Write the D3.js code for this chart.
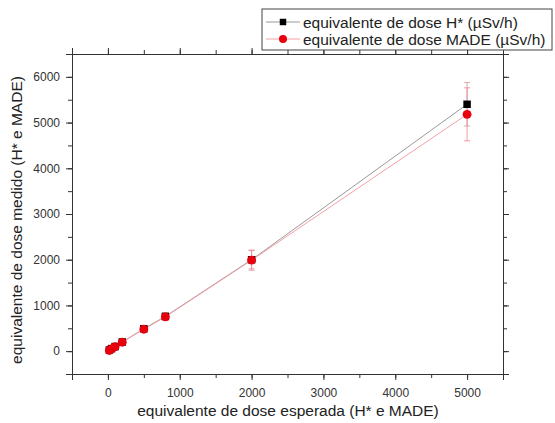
<!DOCTYPE html>
<html>
<head>
<meta charset="utf-8">
<script src="https://cdn.jsdelivr.net/npm/d3@7"></script>
<style>
  body { margin: 0; background: #fff; }
  svg { font-family: Arial, "Liberation Sans", sans-serif; }
</style>
</head>
<body>
<div id="chart"></div>
<script>
// expected dose (x) and measured values for both series
const expected = [20, 50, 100, 200, 500, 800, 2000, 5000]
const hstar = [25, 55, 100, 200, 490, 760, 2000, 5400]
const hstarErr = [2, 5, 10, 20, 50, 75, 200, 475]
const made = [15, 50, 95, 195, 480, 750, 1990, 5180]
const madeErr = [2, 5, 10, 20, 50, 75, 220, 580]
const xTicks = [0, 1000, 2000, 3000, 4000, 5000]
const yTicks = [0, 1000, 2000, 3000, 4000, 5000, 6000]
const legendLabels = ['equivalente de dose H* (\u00b5Sv/h)', 'equivalente de dose MADE (\u00b5Sv/h)']

const width = 555
const height = 423
const m = { left: 72, right: 52, top: 54, bottom: 49 }

const x = d3.scaleLinear().domain([-500, 5500]).range([m.left, width - m.right])
const y = d3.scaleLinear().domain([-500, 6500]).range([height - m.bottom, m.top])

const svg = d3.select('#chart').append('svg')
  .attr('width', width)
  .attr('height', height)

const minor = d => d3.range(d[0], d[1] + 1, 500)

// axes with outward ticks on bottom/left, inward on top/right
const axis = (gen, tf) => svg.append('g').attr('transform', tf).call(gen)
  .call(g => g.select('.domain').attr('stroke', '#333'))
  .call(g => g.selectAll('.tick line').attr('stroke', '#333'))
  .call(g => g.selectAll('.tick text').attr('fill', '#333').attr('font-size', 12))

axis(d3.axisBottom(x).tickValues(minor(x.domain())).tickSize(4).tickFormat(''), `translate(0,${y.range()[0]})`)
axis(d3.axisBottom(x).tickValues(xTicks).tickSize(6).tickPadding(8).tickFormat(d3.format('d')), `translate(0,${y.range()[0]})`)
axis(d3.axisLeft(y).tickValues(minor(y.domain())).tickSize(4).tickFormat(''), `translate(${x.range()[0]},0)`)
axis(d3.axisLeft(y).tickValues(yTicks).tickSize(6).tickPadding(6).tickFormat(d3.format('d')), `translate(${x.range()[0]},0)`)
axis(d3.axisBottom(x).tickValues(minor(x.domain())).tickSize(-4).tickFormat(''), `translate(0,${y.range()[1]})`)
axis(d3.axisBottom(x).tickValues(xTicks).tickSize(-6).tickFormat(''), `translate(0,${y.range()[1]})`)
axis(d3.axisLeft(y).tickValues(minor(y.domain())).tickSize(-4).tickFormat(''), `translate(${x.range()[1]},0)`)
axis(d3.axisLeft(y).tickValues(yTicks).tickSize(-6).tickFormat(''), `translate(${x.range()[1]},0)`)

svg.append('text')
  .attr('x', 288)
  .attr('y', 416)
  .attr('text-anchor', 'middle')
  .attr('font-size', 15.5)
  .attr('fill', '#222')
  .text('equivalente de dose esperada (H* e MADE)')

svg.append('text')
  .attr('transform', 'translate(22,220) rotate(-90)')
  .attr('text-anchor', 'middle')
  .attr('font-size', 15.5)
  .attr('fill', '#222')
  .text('equivalente de dose medido (H* e MADE)')

const series = [
  { vals: hstar, err: hstarErr, line: '#999', errColor: '#c99', marker: 'square', fill: '#000' },
  { vals: made, err: madeErr, line: '#f4a0a8', errColor: '#f08090', marker: 'circle', fill: '#e8000c' }
]

const line = d3.line().x(d => x(d[0])).y(d => y(d[1]))

series.forEach(s => {
  const pts = expected.map((e, i) => [e, s.vals[i], s.err[i]])
  svg.append('path').datum(pts)
    .attr('d', line).attr('fill', 'none')
    .attr('stroke', s.line).attr('stroke-width', 1)
})

series.forEach(s => {
  const pts = expected.map((e, i) => [e, s.vals[i], s.err[i]])
  const eb = svg.append('g').attr('stroke', s.errColor).attr('stroke-width', 0.8)
  pts.forEach(p => {
    eb.append('line').attr('x1', x(p[0])).attr('x2', x(p[0]))
      .attr('y1', y(p[1] - p[2])).attr('y2', y(p[1] + p[2]))
    ;[p[1] - p[2], p[1] + p[2]].forEach(v => {
      eb.append('line').attr('x1', x(p[0]) - 3).attr('x2', x(p[0]) + 3)
        .attr('y1', y(v)).attr('y2', y(v))
    })
  })
})

series.forEach(s => {
  const pts = expected.map((e, i) => [e, s.vals[i]])
  const sym = s.marker === 'square' ? d3.symbolSquare : d3.symbolCircle
  const size = s.marker === 'square' ? 56 : 62
  svg.append('g').selectAll('path').data(pts).enter().append('path')
    .attr('transform', d => `translate(${x(d[0])},${y(d[1])})`)
    .attr('d', d3.symbol(sym, size))
    .attr('fill', s.fill)
})

// legend
const lg = svg.append('g').attr('transform', 'translate(262,9)')
lg.append('rect').attr('width', 290).attr('height', 41)
  .attr('fill', '#fff').attr('stroke', '#444').attr('stroke-width', 1)
series.forEach((s, i) => {
  const row = lg.append('g').attr('transform', `translate(0,${13 + i * 17})`)
  row.append('line').attr('x1', 4).attr('x2', 38).attr('stroke', s.line).attr('stroke-width', 1)
  const sym = s.marker === 'square' ? d3.symbolSquare : d3.symbolCircle
  row.append('path').attr('transform', 'translate(21,0)')
    .attr('d', d3.symbol(sym, s.marker === 'square' ? 42 : 50)).attr('fill', s.fill)
  row.append('text').attr('x', 41).attr('y', 5.5)
    .attr('font-size', 15.5).attr('fill', '#222')
    .text(legendLabels[i])
})
</script>
</body>
</html>
